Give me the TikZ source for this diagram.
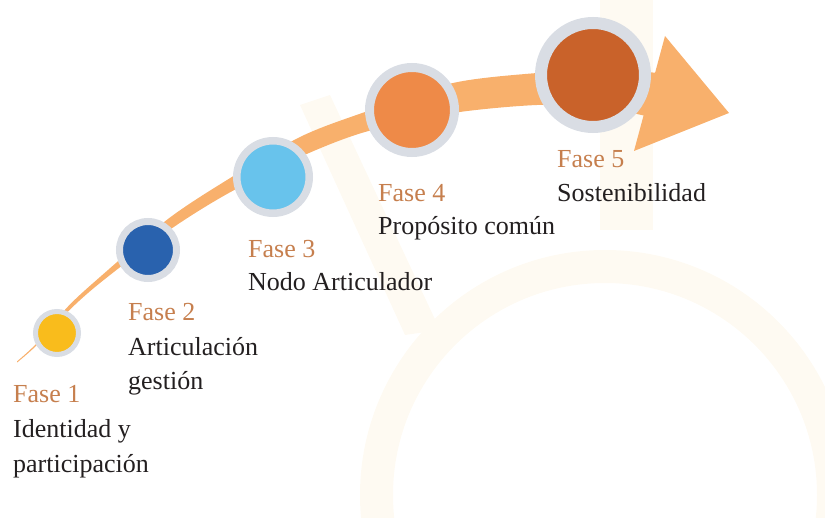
\documentclass[tikz,border=0pt]{standalone}
\usepackage{fontspec}
\setmainfont{Liberation Serif}
\definecolor{bandc}{HTML}{F8B06C}
\definecolor{ringc}{HTML}{D9DDE4}
\definecolor{cone}{HTML}{F9BC1C}
\definecolor{ctwo}{HTML}{2962AE}
\definecolor{cthree}{HTML}{68C3EC}
\definecolor{cfour}{HTML}{EE8A48}
\definecolor{cfive}{HTML}{C9622A}
\definecolor{fasec}{HTML}{C67F4E}
\definecolor{descc}{HTML}{231F20}
\definecolor{wmark}{HTML}{FEFAF2}
\begin{document}
\begin{tikzpicture}[x=1pt,y=-1pt,
  txt/.style={anchor=base west, inner sep=0pt, font=\fontsize{26}{30}\selectfont},
  fase/.style={txt, text=fasec},
  desc/.style={txt, text=descc},
  phase/.style={circle, draw=ringc, inner sep=0pt}]
\useasboundingbox (0,0) rectangle (825,518);
% faint watermark
\fill[wmark] (600,0) rectangle (653,230);
\fill[wmark] (300,105) -- (330,95) -- (440,330) -- (405,335) -- cycle;
\fill[wmark, even odd rule] (605,495) circle[radius=245] (605,495) circle[radius=212];
% band
\fill[bandc] plot[smooth, tension=0.5] coordinates {(17,361.4) (37,343) (68,306.5) (100,277) (168,219) (227,180) (300,137) (365,112) (453,83) (537,73) (600,70) (660,73)}
  -- plot[smooth, tension=0.5] coordinates {(650,117) (600,107) (537,105) (453,113) (365,132) (300,157) (227,194) (168,231) (100,283) (68,311.5) (37,345) (17,362.6)} -- cycle;
\fill[bandc] (665,36) -- (729,113) -- (634,151) -- cycle;
% phases
\node[phase, fill=cone, line width=5pt, minimum size=43pt] (c1) at (57,333) {};
\node[phase, fill=ctwo, line width=7pt, minimum size=57pt] (c2) at (148,250) {};
\node[phase, fill=cthree, line width=7.5pt, minimum size=72.5pt] (c3) at (273,177) {};
\node[phase, fill=cfour, line width=9pt, minimum size=85pt] (c4) at (412,110) {};
\node[phase, fill=cfive, line width=12pt, minimum size=104pt] (c5) at (593,75) {};
% labels
\node[fase] (f1) at (13,403) {Fase 1};
\node[desc] (d1a) at ([yshift=-35pt]f1.base west) {Identidad y};
\node[desc] (d1b) at ([yshift=-34pt]d1a.base west) {participación};
\node[fase] (f2) at (128,321) {Fase 2};
\node[desc] (d2a) at ([yshift=-35pt]f2.base west) {Articulación};
\node[desc] (d2b) at ([yshift=-34pt]d2a.base west) {gestión};
\node[fase] (f3) at (248,258) {Fase 3};
\node[desc] (d3a) at ([yshift=-33pt]f3.base west) {Nodo Articulador};
\node[fase] (f4) at (378,202) {Fase 4};
\node[desc] (d4a) at ([yshift=-33pt]f4.base west) {Propósito común};
\node[fase] (f5) at (557,168) {Fase 5};
\node[desc] (d5a) at ([yshift=-34pt]f5.base west) {Sostenibilidad};
\end{tikzpicture}
\end{document}
